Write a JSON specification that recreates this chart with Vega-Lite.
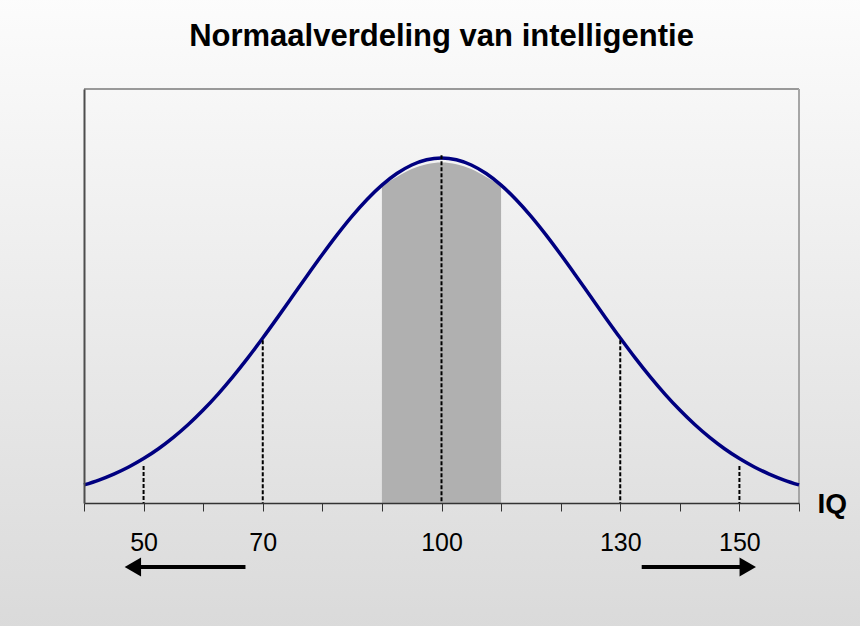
{
  "$schema": "https://vega.github.io/schema/vega-lite/v6.json",
  "autosize": {"type": "none"},
  "width": 715,
  "height": 414,
  "padding": {"left": 84, "top": 89, "right": 61, "bottom": 123},
  "background": "#ececec",
  "title": {"text": "Normaalverdeling van intelligentie", "font": "Liberation Sans", "fontSize": 31, "fontWeight": "bold", "color": "#000000", "anchor": "middle", "frame": "group", "offset": -57},
  "datasets": {
    "curve": [
      {"iq": 40, "val": 0.0523}, {"iq": 42.5, "val": 0.0665}, {"iq": 45, "val": 0.0838}, {"iq": 47.5, "val": 0.1044},
      {"iq": 50, "val": 0.1288}, {"iq": 52.5, "val": 0.1573}, {"iq": 55, "val": 0.1902}, {"iq": 57.5, "val": 0.2275},
      {"iq": 60, "val": 0.2694}, {"iq": 62.5, "val": 0.3158}, {"iq": 65, "val": 0.3664}, {"iq": 67.5, "val": 0.4207},
      {"iq": 70, "val": 0.4782}, {"iq": 72.5, "val": 0.538}, {"iq": 75, "val": 0.5991}, {"iq": 77.5, "val": 0.6604},
      {"iq": 80, "val": 0.7204}, {"iq": 82.5, "val": 0.778}, {"iq": 85, "val": 0.8316}, {"iq": 87.5, "val": 0.8798},
      {"iq": 90, "val": 0.9213}, {"iq": 92.5, "val": 0.9549}, {"iq": 95, "val": 0.9797}, {"iq": 97.5, "val": 0.9949},
      {"iq": 100, "val": 1.0},
      {"iq": 102.5, "val": 0.9949}, {"iq": 105, "val": 0.9797}, {"iq": 107.5, "val": 0.9549}, {"iq": 110, "val": 0.9213},
      {"iq": 112.5, "val": 0.8798}, {"iq": 115, "val": 0.8316}, {"iq": 117.5, "val": 0.778}, {"iq": 120, "val": 0.7204},
      {"iq": 122.5, "val": 0.6604}, {"iq": 125, "val": 0.5991}, {"iq": 127.5, "val": 0.538}, {"iq": 130, "val": 0.4782},
      {"iq": 132.5, "val": 0.4207}, {"iq": 135, "val": 0.3664}, {"iq": 137.5, "val": 0.3158}, {"iq": 140, "val": 0.2694},
      {"iq": 142.5, "val": 0.2275}, {"iq": 145, "val": 0.1902}, {"iq": 147.5, "val": 0.1573}, {"iq": 150, "val": 0.1288},
      {"iq": 152.5, "val": 0.1044}, {"iq": 155, "val": 0.0838}, {"iq": 157.5, "val": 0.0665}, {"iq": 160, "val": 0.0523}
    ],
    "band": [
      {"iq": 90, "val": 0.92}, {"iq": 92.5, "val": 0.945}, {"iq": 95, "val": 0.968}, {"iq": 97.5, "val": 0.982},
      {"iq": 100, "val": 0.987}, {"iq": 102.5, "val": 0.982}, {"iq": 105, "val": 0.968}, {"iq": 107.5, "val": 0.945},
      {"iq": 110, "val": 0.92}
    ],
    "drops": [
      {"iq": 50, "val": 0.107}, {"iq": 70, "val": 0.472}, {"iq": 100, "val": 1.008}, {"iq": 130, "val": 0.472}, {"iq": 150, "val": 0.107}
    ],
    "arrows": [
      {"iq": 48.2, "iq2": 67.1, "val": -0.1855, "dir": "left"},
      {"iq": 133.6, "iq2": 151.4, "val": -0.1855, "dir": "right"}
    ],
    "heads": [
      {"iq": 48.2, "val": -0.1855, "dir": "left"},
      {"iq": 151.4, "val": -0.1855, "dir": "right"}
    ]
  },
  "layer": [
    {
      "data": {"values": [{"k": 1}]},
      "mark": {"type": "rect", "clip": false, "color": {"gradient": "linear", "x1": 0, "y1": 0, "x2": 0, "y2": 1, "stops": [{"offset": 0, "color": "#fcfcfc"}, {"offset": 1, "color": "#dadada"}]}},
      "encoding": {
        "x": {"datum": 25.5, "type": "quantitative", "scale": {"domain": [40, 160], "nice": false, "zero": false}},
        "x2": {"datum": 171},
        "y": {"datum": 1.47, "type": "quantitative", "scale": {"domain": [0, 1.2], "nice": false}},
        "y2": {"datum": -0.37}
      }
    },
    {
      "data": {"values": [{"k": 1}]},
      "mark": {"type": "rule", "color": "#999999", "strokeWidth": 2},
      "encoding": {
        "x": {"datum": 40, "type": "quantitative", "scale": {"domain": [40, 160], "nice": false, "zero": false}},
        "x2": {"datum": 160},
        "y": {"datum": 1.2, "type": "quantitative", "scale": {"domain": [0, 1.2], "nice": false}}
      }
    },
    {
      "data": {"values": [{"k": 1}]},
      "mark": {"type": "rule", "color": "#a6a6a6", "strokeWidth": 2},
      "encoding": {
        "x": {"datum": 160, "type": "quantitative", "scale": {"domain": [40, 160], "nice": false, "zero": false}},
        "y": {"datum": 0, "type": "quantitative", "scale": {"domain": [0, 1.2], "nice": false}},
        "y2": {"datum": 1.2}
      }
    },
    {
      "data": {"name": "band"},
      "mark": {"type": "area", "color": "#b0b0b0", "interpolate": "monotone"},
      "encoding": {
        "x": {"field": "iq", "type": "quantitative", "title": "IQ", "scale": {"domain": [40, 160], "nice": false, "zero": false}},
        "y": {"field": "val", "type": "quantitative", "title": null, "scale": {"domain": [0, 1.2], "nice": false}}
      }
    },
    {
      "data": {"name": "curve"},
      "mark": {"type": "line", "color": "#000080", "strokeWidth": 3.5, "interpolate": "monotone"},
      "encoding": {
        "x": {
          "field": "iq", "type": "quantitative", "title": "IQ",
          "scale": {"domain": [40, 160], "nice": false, "zero": false},
          "axis": {
            "title": "IQ", "titleFont": "Liberation Sans", "titleFontSize": 28, "titleFontWeight": "bold", "titleColor": "#000000",
            "titleX": 733, "titleY": 9, "titleAlign": "left", "titleBaseline": "alphabetic", "titleAngle": 0,
            "values": [40, 50, 60, 70, 80, 90, 100, 110, 120, 130, 140, 150, 160],
            "labelExpr": "indexof([50, 70, 100, 130, 150], datum.value) >= 0 ? datum.label : ''",
            "labelFont": "Liberation Sans", "labelFontSize": 25, "labelColor": "#000000", "labelPadding": 19,
            "labelFlush": false, "labelOverlap": false,
            "tickSize": 8, "tickColor": "#333333", "tickWidth": 1,
            "domainColor": "#333333", "domainWidth": 1.5, "grid": false, "zindex": 2
          }
        },
        "y": {
          "field": "val", "type": "quantitative", "title": null,
          "scale": {"domain": [0, 1.2], "nice": false},
          "axis": {"title": null, "labels": false, "ticks": false, "grid": false, "domainColor": "#4d4d4d", "domainWidth": 2, "zindex": 2}
        }
      }
    },
    {
      "data": {"name": "drops"},
      "mark": {"type": "rule", "color": "#000000", "strokeWidth": 2, "strokeDash": [4, 2]},
      "encoding": {
        "x": {"field": "iq", "type": "quantitative", "title": "IQ", "scale": {"domain": [40, 160], "nice": false, "zero": false}},
        "y": {"field": "val", "type": "quantitative", "title": null, "scale": {"domain": [0, 1.2], "nice": false}},
        "y2": {"datum": 0}
      }
    },
    {
      "data": {"name": "arrows"},
      "mark": {"type": "rule", "color": "#000000", "strokeWidth": 4, "clip": false},
      "encoding": {
        "x": {"field": "iq", "type": "quantitative", "title": "IQ", "scale": {"domain": [40, 160], "nice": false, "zero": false}},
        "x2": {"field": "iq2"},
        "y": {"field": "val", "type": "quantitative", "title": null, "scale": {"domain": [0, 1.2], "nice": false}}
      }
    },
    {
      "data": {"name": "heads"},
      "mark": {"type": "point", "filled": true, "color": "#000000", "opacity": 1, "size": 360, "clip": false},
      "encoding": {
        "x": {"field": "iq", "type": "quantitative", "title": "IQ", "scale": {"domain": [40, 160], "nice": false, "zero": false}},
        "y": {"field": "val", "type": "quantitative", "title": null, "scale": {"domain": [0, 1.2], "nice": false}},
        "shape": {"field": "dir", "type": "nominal", "scale": {"domain": ["left", "right"], "range": ["triangle-left", "triangle-right"]}, "legend": null}
      }
    }
  ],
  "config": {
    "font": "Liberation Sans",
    "view": {"stroke": null}
  }
}
